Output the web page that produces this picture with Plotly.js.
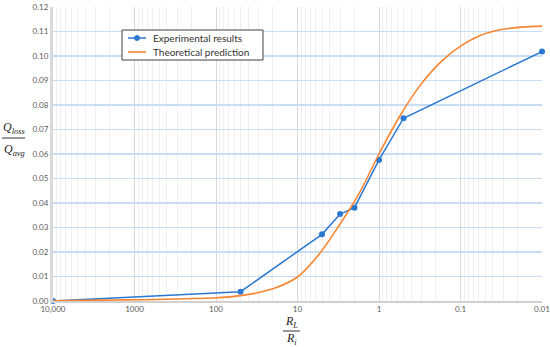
<!DOCTYPE html>
<html>
<head>
<meta charset="utf-8">
<script src="https://cdn.plot.ly/plotly-3.0.1.min.js"></script>
<style>html,body{margin:0;padding:0;background:#fff;}#chart{width:550px;height:347px;}</style>
</head>
<body>
<div id="chart"></div>
<script>
// Experimental results
var expR = [10000, 50, 5, 3, 2, 1, 0.5, 0.01];
var expQ = [0.0, 0.0038, 0.0272, 0.0355, 0.0381, 0.0576, 0.0746, 0.1018];
// Theoretical prediction
var thR = [10000, 5623, 3162, 1778, 1000, 562, 316, 178, 100, 56.2, 31.6, 17.8, 10, 5.62, 3.16, 1.78, 1, 0.562, 0.316, 0.178, 0.1, 0.0562, 0.0316, 0.0178, 0.01];
var thQ = [0.0001, 0.0002, 0.0003, 0.0004, 0.0005, 0.0006, 0.0008, 0.0010, 0.0013, 0.0020, 0.0033, 0.0056, 0.0098, 0.0185, 0.0303, 0.0435, 0.0600, 0.0752, 0.0878, 0.0973, 0.1040, 0.1085, 0.1108, 0.1118, 0.1122];
// Axis ticks
var xTickVals = [10000, 1000, 100, 10, 1, 0.1, 0.01];
var xTickText = ['10,000', '1000', '100', '10', '1', '0.1', '0.01'];
var seriesNames = ['Experimental results', 'Theoretical prediction'];
var blue = '#2a78d2', orange = '#f7852f';

var L = 53, R = 542, T = 7, B = 301;
function px(x) { return (x - L) / (R - L); }
function py(y) { return (B - y) / (B - T); }

var traces = [
  {x: expR, y: expQ, name: seriesNames[0], type: 'scatter', mode: 'lines+markers',
   line: {color: blue, width: 1.5}, marker: {color: blue, size: 6}, cliponaxis: false},
  {x: thR, y: thQ, name: seriesNames[1], type: 'scatter', mode: 'lines',
   line: {color: orange, width: 1.6, shape: 'spline', smoothing: 1}, cliponaxis: false}
];

var tickFont = {family: 'Lato, Liberation Sans, sans-serif', size: 8, color: '#595959'};
var mathFont = {family: 'Liberation Serif, DejaVu Serif, serif', size: 12, color: '#222'};
var legFont = {family: 'Lato, Liberation Sans, sans-serif', size: 10, color: '#333'};

var layout = {
  width: 550, height: 347,
  margin: {l: L, r: 550 - R, t: T, b: 347 - B},
  paper_bgcolor: '#fff', plot_bgcolor: '#fff',
  showlegend: false,
  xaxis: {type: 'log', range: [4, -2], tickvals: xTickVals, ticktext: xTickText,
    tickfont: tickFont, ticklabeloverflow: 'allow', showgrid: true, gridcolor: '#d9d9d9', gridwidth: 1,
    minor: {showgrid: true, gridcolor: '#efefef', gridwidth: 1, dtick: 'D1'},
    showline: true, linecolor: '#d0d0d0', linewidth: 1.5, zeroline: false, ticks: '', fixedrange: true},
  yaxis: {range: [0, 0.12], dtick: 0.01, tickformat: '.2f', tickfont: tickFont,
    showgrid: true, gridcolor: '#c9dcf2', gridwidth: 1.5,
    showline: true, linecolor: '#d9d9d9', linewidth: 3, zeroline: false, ticks: '', fixedrange: true},
  annotations: [
    {xref: 'paper', yref: 'paper', x: px(14), y: py(128), text: '<i>Q</i><sub><i>loss</i></sub>', showarrow: false, font: mathFont, xanchor: 'center', yanchor: 'middle'},
    {xref: 'paper', yref: 'paper', x: px(14), y: py(150), text: '<i>Q</i><sub><i>avg</i></sub>', showarrow: false, font: mathFont, xanchor: 'center', yanchor: 'middle'},
    {xref: 'paper', yref: 'paper', x: px(291), y: py(322), text: '<i>R</i><sub><i>L</i></sub>', showarrow: false, font: mathFont, xanchor: 'center', yanchor: 'middle'},
    {xref: 'paper', yref: 'paper', x: px(291), y: py(339), text: '<i>R</i><sub><i>i</i></sub>', showarrow: false, font: mathFont, xanchor: 'center', yanchor: 'middle'},
    {xref: 'paper', yref: 'paper', x: px(151), y: py(38), text: seriesNames[0], showarrow: false, font: legFont, xanchor: 'left', yanchor: 'middle'},
    {xref: 'paper', yref: 'paper', x: px(151), y: py(52), text: seriesNames[1], showarrow: false, font: legFont, xanchor: 'left', yanchor: 'middle'}
  ],
  shapes: [
    {type: 'line', xref: 'paper', yref: 'paper', x0: px(2), x1: px(25), y0: py(138), y1: py(138), line: {color: '#333', width: 1}},
    {type: 'line', xref: 'paper', yref: 'paper', x0: px(283), x1: px(300), y0: py(331), y1: py(331), line: {color: '#333', width: 1}},
    {type: 'rect', xref: 'paper', yref: 'paper', x0: px(122), x1: px(263), y0: py(30), y1: py(60), fillcolor: '#fff', line: {color: '#404040', width: 1}},
    {type: 'line', xref: 'paper', yref: 'paper', x0: px(128), x1: px(146), y0: py(38), y1: py(38), line: {color: blue, width: 1.5}},
    {type: 'circle', xref: 'paper', yref: 'paper', x0: px(134.5), x1: px(139.5), y0: py(35.5), y1: py(40.5), fillcolor: blue, line: {color: blue, width: 1}},
    {type: 'line', xref: 'paper', yref: 'paper', x0: px(128), x1: px(146), y0: py(52), y1: py(52), line: {color: orange, width: 1.6}}
  ]
};

Plotly.newPlot('chart', traces, layout, {displayModeBar: false, staticPlot: true});
</script>
</body>
</html>
